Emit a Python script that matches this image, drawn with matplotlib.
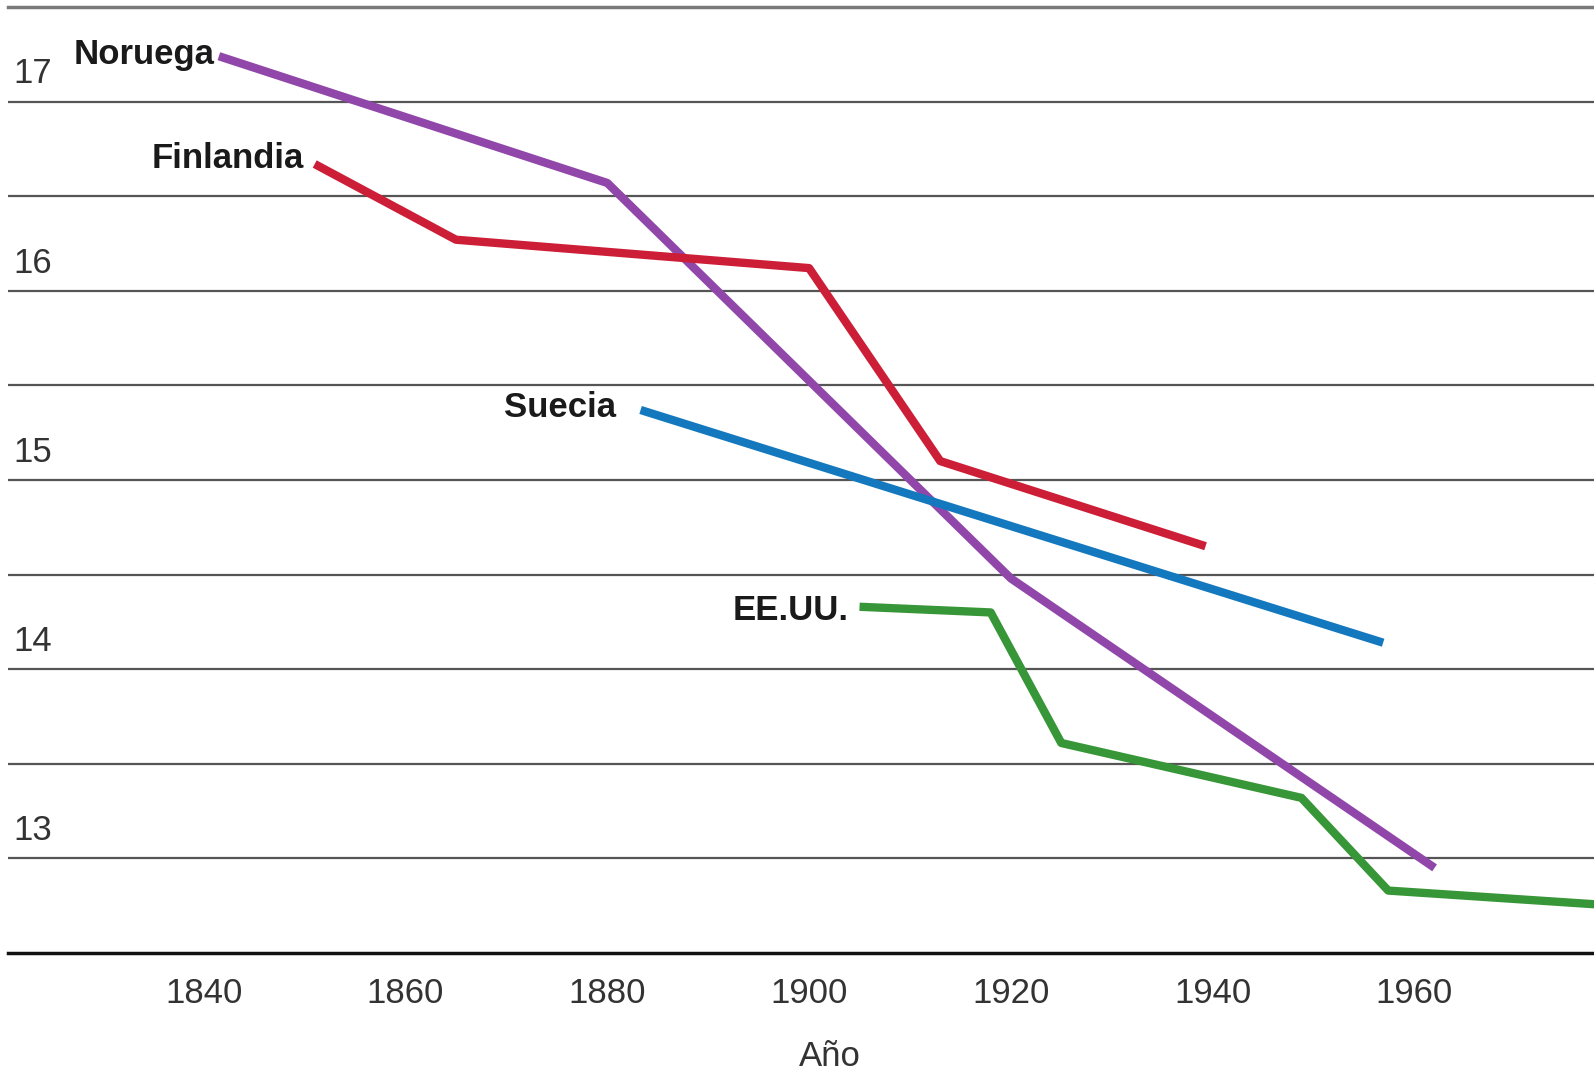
# Age at menarche by year of birth, four countries.

import matplotlib
matplotlib.use("Agg")
import matplotlib.pyplot as plt
import matplotlib.transforms as mtransforms

plt.rcParams['font.family'] = ['Liberation Sans', 'DejaVu Sans']

# data
noruega_years = [1841.5, 1880, 1920, 1962]
noruega_vals = [17.24, 16.57, 14.48, 12.95]

finlandia_years = [1851, 1865, 1900, 1913, 1939.3]
finlandia_vals = [16.67, 16.27, 16.12, 15.10, 14.65]

suecia_years = [1883.3, 1956.9]
suecia_vals = [15.37, 14.14]

eeuu_years = [1905, 1918, 1925, 1948.8, 1957.4, 1980]
eeuu_vals = [14.33, 14.30, 13.61, 13.32, 12.83, 12.75]

x_ticks = [1840, 1860, 1880, 1900, 1920, 1940, 1960]
y_labels = [17, 16, 15, 14, 13]
grid_vals = [13, 13.5, 14, 14.5, 15, 15.5, 16, 16.5, 17]

series = [
    ("Noruega", noruega_years, noruega_vals, "#9146aa", (-3, 1)),
    ("Finlandia", finlandia_years, finlandia_vals, "#cd1e37", (-8, 4)),
    ("Suecia", suecia_years, suecia_vals, "#1478be", (-18, 2)),
    ("EE.UU.", eeuu_years, eeuu_vals, "#379637", (-8, -3)),
]

fig = plt.figure(figsize=(15.94, 10.74), dpi=100)
ax = fig.add_axes([8 / 1594, 1 - 953 / 1074, 1 - 8 / 1594, (953 - 7) / 1074])
ax.set_xlim(1820.6, 1977.8)
ax.set_ylim(12.5, 17.5)

for g in grid_vals:
    ax.axhline(g, color="#555555", lw=1.6, zorder=1)

for name, xs, ys, color, off in series:
    ax.plot(xs, ys, color=color, lw=6, solid_capstyle="butt", zorder=3)
    ax.annotate(name, xy=(xs[0], ys[0]), xytext=off, textcoords="offset points",
                ha="right", va="center", fontsize=25, fontweight="bold",
                color="#1a1a1a")

trans = mtransforms.blended_transform_factory(ax.transAxes, ax.transData)
for v in y_labels:
    ax.annotate(str(v), xy=(0, v), xycoords=trans, xytext=(4, 8),
                textcoords="offset points", ha="left", va="bottom",
                fontsize=25, color="#333333")

for s in ["left", "right"]:
    ax.spines[s].set_visible(False)
ax.spines["top"].set_color("#7a7a7a")
ax.spines["top"].set_linewidth(2.5)
ax.spines["bottom"].set_color("#111111")
ax.spines["bottom"].set_linewidth(2.5)

ax.set_yticks([])
ax.set_xticks(x_ticks)
ax.set_xticklabels([str(t) for t in x_ticks])
ax.tick_params(axis="x", length=0, pad=17, labelsize=25, labelcolor="#333333")

fig.text(830 / 1594, 1 - 1057 / 1074, "Año", ha="center", va="center",
         fontsize=25, color="#333333")

fig.savefig("out.png", dpi=100, facecolor="white")
